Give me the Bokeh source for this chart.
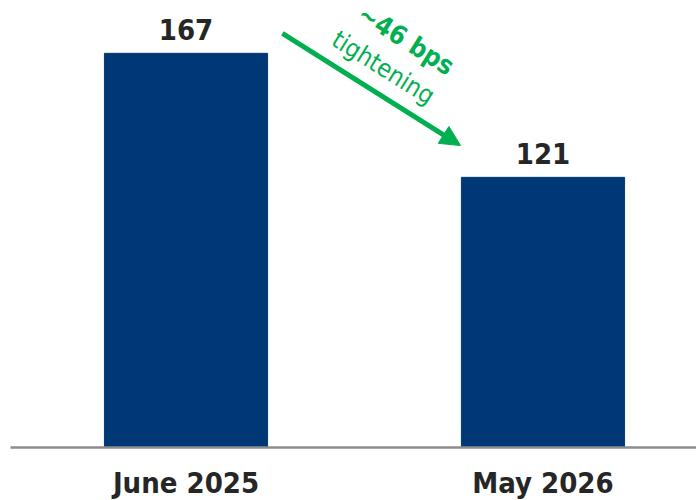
import math
from bokeh.plotting import figure
from bokeh.models import ColumnDataSource, Range1d, FixedTicker, Arrow, NormalHead
from bokeh.core.properties import value
from bokeh.embed import file_html
from bokeh.resources import INLINE

categories = ["June 2025", "May 2026"]
spreads = [167, 121]
change_label = "~46 bps"
change_word = "tightening"

BAR = "#003876"
GREEN = "#00B050"
TXT = "#262626"
FONT = "DejaVu Sans Condensed"

xs = list(range(len(categories)))
src = ColumnDataSource(dict(x=xs, top=spreads, label=[str(v) for v in spreads]))

p = figure(frame_width=686, frame_height=447, output_backend="svg", toolbar_location=None,
           x_range=Range1d(-0.4916, 1.43), y_range=Range1d(20.8, 186.6),
           min_border_left=10, min_border_right=0, min_border_top=0, min_border_bottom=0)
p.outline_line_color = None
p.xgrid.visible = False
p.ygrid.visible = False
p.yaxis.visible = False

p.vbar(x="x", top="top", bottom=0, width=0.457, color=BAR, source=src)
p.text(x="x", y="top", text="label", source=src, text_align="center", text_baseline="bottom",
       y_offset=-13, text_font=value(FONT), text_font_style="bold", text_font_size="29px",
       text_color=TXT)

ax = p.xaxis[0]
ax.ticker = FixedTicker(ticks=xs)
ax.major_label_overrides = {i: c for i, c in enumerate(categories)}
ax.major_tick_line_color = None
ax.minor_tick_line_color = None
ax.axis_line_color = "#8c8c8c"
ax.axis_line_width = 2.5
ax.major_label_text_font = FONT
ax.major_label_text_font_style = "bold"
ax.major_label_text_font_size = "29px"
ax.major_label_text_color = TXT
ax.major_label_standoff = 12

# arrow showing the change between the two bars
p.add_layout(Arrow(x_start=0.270, y_start=174.4, x_end=0.769, y_end=132.8,
                   line_color=GREEN, line_width=5,
                   end=NormalHead(size=20, fill_color=GREEN, line_color=GREEN, line_width=1)))
ang = -math.radians(32)
p.text(x=[0.617], y=[172.0], text=[change_label], angle=ang, text_align="center",
       text_baseline="middle", text_font=value(FONT), text_font_style="bold",
       text_font_size="26px", text_color=GREEN)
p.text(x=[0.553], y=[161.7], text=[change_word], angle=ang, text_align="center",
       text_baseline="middle", text_font=value(FONT), text_font_size="25px", text_color=GREEN)

open("out.html", "w").write(file_html(p, INLINE))
